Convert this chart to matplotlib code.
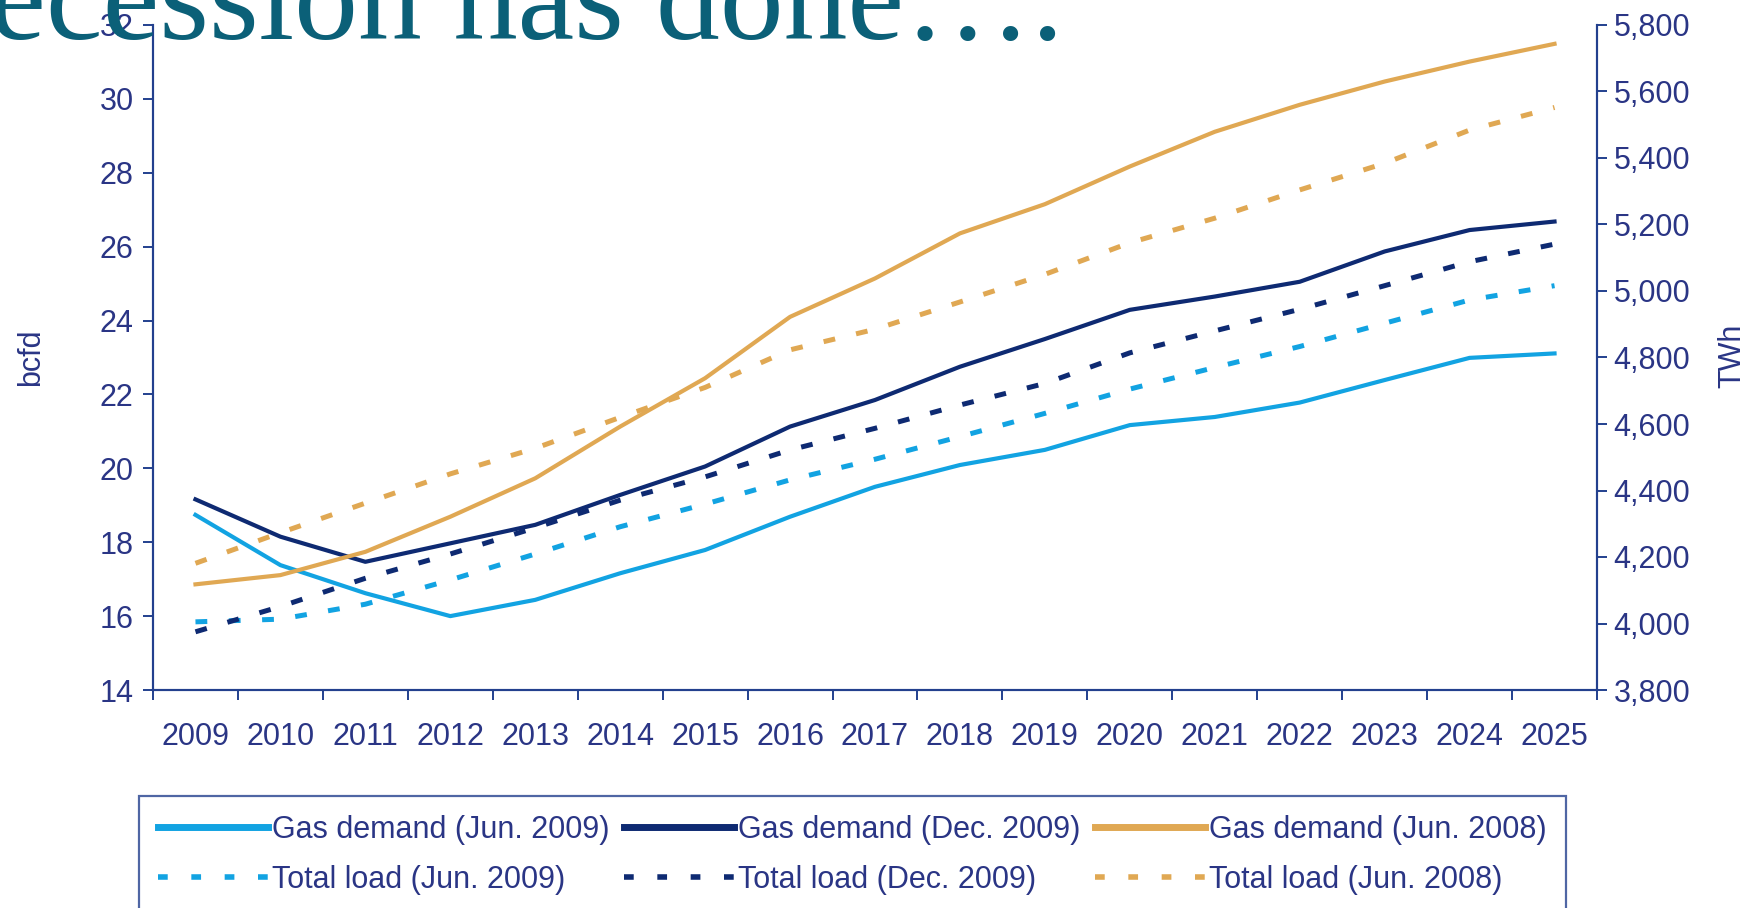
import matplotlib
matplotlib.use("Agg")
import matplotlib.pyplot as plt
from matplotlib.lines import Line2D
from matplotlib.ticker import FuncFormatter, FixedLocator

plt.rcParams["font.family"] = ["Liberation Sans", "DejaVu Sans"]
plt.rcParams["lines.scale_dashes"] = False

YEARS = [str(y) for y in range(2009, 2026)]

# gas demand, bcfd (left axis)
GAS_JUN09 = [18.74, 17.38, 16.62, 16.00, 16.44, 17.16, 17.79, 18.69, 19.50,
             20.09, 20.50, 21.17, 21.39, 21.78, 22.39, 22.99, 23.11]
GAS_DEC09 = [19.16, 18.15, 17.47, 17.97, 18.47, 19.28, 20.05, 21.13, 21.85,
             22.75, 23.50, 24.29, 24.65, 25.05, 25.87, 26.45, 26.68]
GAS_JUN08 = [16.86, 17.11, 17.74, 18.69, 19.73, 21.13, 22.44, 24.10, 25.14,
             26.36, 27.15, 28.17, 29.11, 29.84, 30.47, 31.01, 31.49]

# total load, TWh (right axis)
LOAD_JUN09 = [4005, 4013, 4058, 4131, 4209, 4291, 4359, 4432, 4494,
              4562, 4632, 4705, 4770, 4833, 4903, 4973, 5016]
LOAD_DEC09 = [3975, 4051, 4136, 4209, 4288, 4371, 4441, 4522, 4587,
              4657, 4722, 4814, 4880, 4945, 5016, 5088, 5141]
LOAD_JUN08 = [4181, 4273, 4362, 4450, 4527, 4620, 4710, 4823, 4885,
              4967, 5050, 5145, 5219, 5304, 5384, 5484, 5552]

LBLUE = "#12A3E2"
NAVY = "#0E2A72"
GOLD = "#E0A853"
AXC = "#23408E"
TXT = "#2A3585"
TITLE = "#0B6078"
DASH = (8.5, 15.5)

fig = plt.figure(figsize=(17.54, 9.08), dpi=100)
ax = fig.add_axes([153 / 1754, 1 - 690 / 908, 1444 / 1754, 665 / 908])
ax2 = ax.twinx()

x = list(range(len(YEARS)))
ax.plot(x, GAS_JUN09, color=LBLUE, lw=3.0, zorder=3)
ax.plot(x, GAS_DEC09, color=NAVY, lw=3.0, zorder=3)
ax.plot(x, GAS_JUN08, color=GOLD, lw=3.0, zorder=3)
ax2.plot(x, LOAD_JUN09, color=LBLUE, lw=3.6, dashes=DASH)
ax2.plot(x, LOAD_DEC09, color=NAVY, lw=3.6, dashes=DASH)
ax2.plot(x, LOAD_JUN08, color=GOLD, lw=3.6, dashes=DASH)

ax.set_xlim(-0.5, len(YEARS) - 0.5)
ax.set_ylim(14, 32)
ax2.set_ylim(3800, 5800)
ax.set_yticks(range(14, 33, 2))
ax2.set_yticks(range(3800, 5801, 200))
ax2.yaxis.set_major_formatter(FuncFormatter(lambda v, p: f"{int(v):,}"))

# year labels sit between the boundary ticks
ax.set_xticks(x)
ax.set_xticklabels(YEARS)
ax.xaxis.set_minor_locator(FixedLocator([i - 0.5 for i in range(len(YEARS) + 1)]))
ax.tick_params(axis="x", which="major", length=0, pad=23, labelsize=22, labelcolor=TXT)
ax.tick_params(axis="x", which="minor", length=7, width=1.4, color=AXC, direction="out")
ax.tick_params(axis="y", length=7, width=1.4, color=AXC, pad=7, labelsize=22, labelcolor=TXT)
ax2.tick_params(axis="y", length=7, width=1.4, color=AXC, pad=5, labelsize=22, labelcolor=TXT)

for a in (ax, ax2):
    a.spines["top"].set_visible(False)
    for s in ("left", "bottom", "right"):
        a.spines[s].set_color(AXC)
        a.spines[s].set_linewidth(1.5)

fig.text(31 / 1754, 1 - 357 / 908, "bcfd", rotation=90, ha="center", va="center",
         fontsize=22, color=TXT)
fig.text(1732 / 1754, 1 - 356 / 908, "TWh", rotation=90, ha="center", va="center",
         fontsize=22, color=TXT)

handles = [
    Line2D([], [], color=LBLUE, lw=5),
    Line2D([], [], color=LBLUE, lw=4, dashes=(7, 17)),
    Line2D([], [], color=NAVY, lw=5),
    Line2D([], [], color=NAVY, lw=4, dashes=(7, 17)),
    Line2D([], [], color=GOLD, lw=5),
    Line2D([], [], color=GOLD, lw=4, dashes=(7, 17)),
]
labels = ["Gas demand (Jun. 2009)", "Total load (Jun. 2009)",
          "Gas demand (Dec. 2009)", "Total load (Dec. 2009)",
          "Gas demand (Jun. 2008)", "Total load (Jun. 2008)"]
leg = fig.legend(handles, labels, ncol=3, loc="upper left", mode="expand",
                 bbox_to_anchor=(139 / 1754, 0.0, 1427 / 1754, 1 - 796 / 908),
                 bbox_transform=fig.transFigure, borderaxespad=0,
                 fontsize=22, handlelength=3.6, handletextpad=0.13,
                 labelspacing=0.65, borderpad=0.62, columnspacing=0.6,
                 frameon=True, fancybox=False)
leg.get_frame().set_edgecolor(AXC)
leg.get_frame().set_linewidth(1.6)
for t in leg.get_texts():
    t.set_color(TXT)

# slide heading running across the top edge
fig.text(-96 / 1754, 1 - 39 / 908, "Recession has done\u2026.", ha="left", va="baseline",
         fontsize=92, color=TITLE, family=["Liberation Serif", "DejaVu Serif"], zorder=10)

fig.savefig("out.png", dpi=100, facecolor="white")
